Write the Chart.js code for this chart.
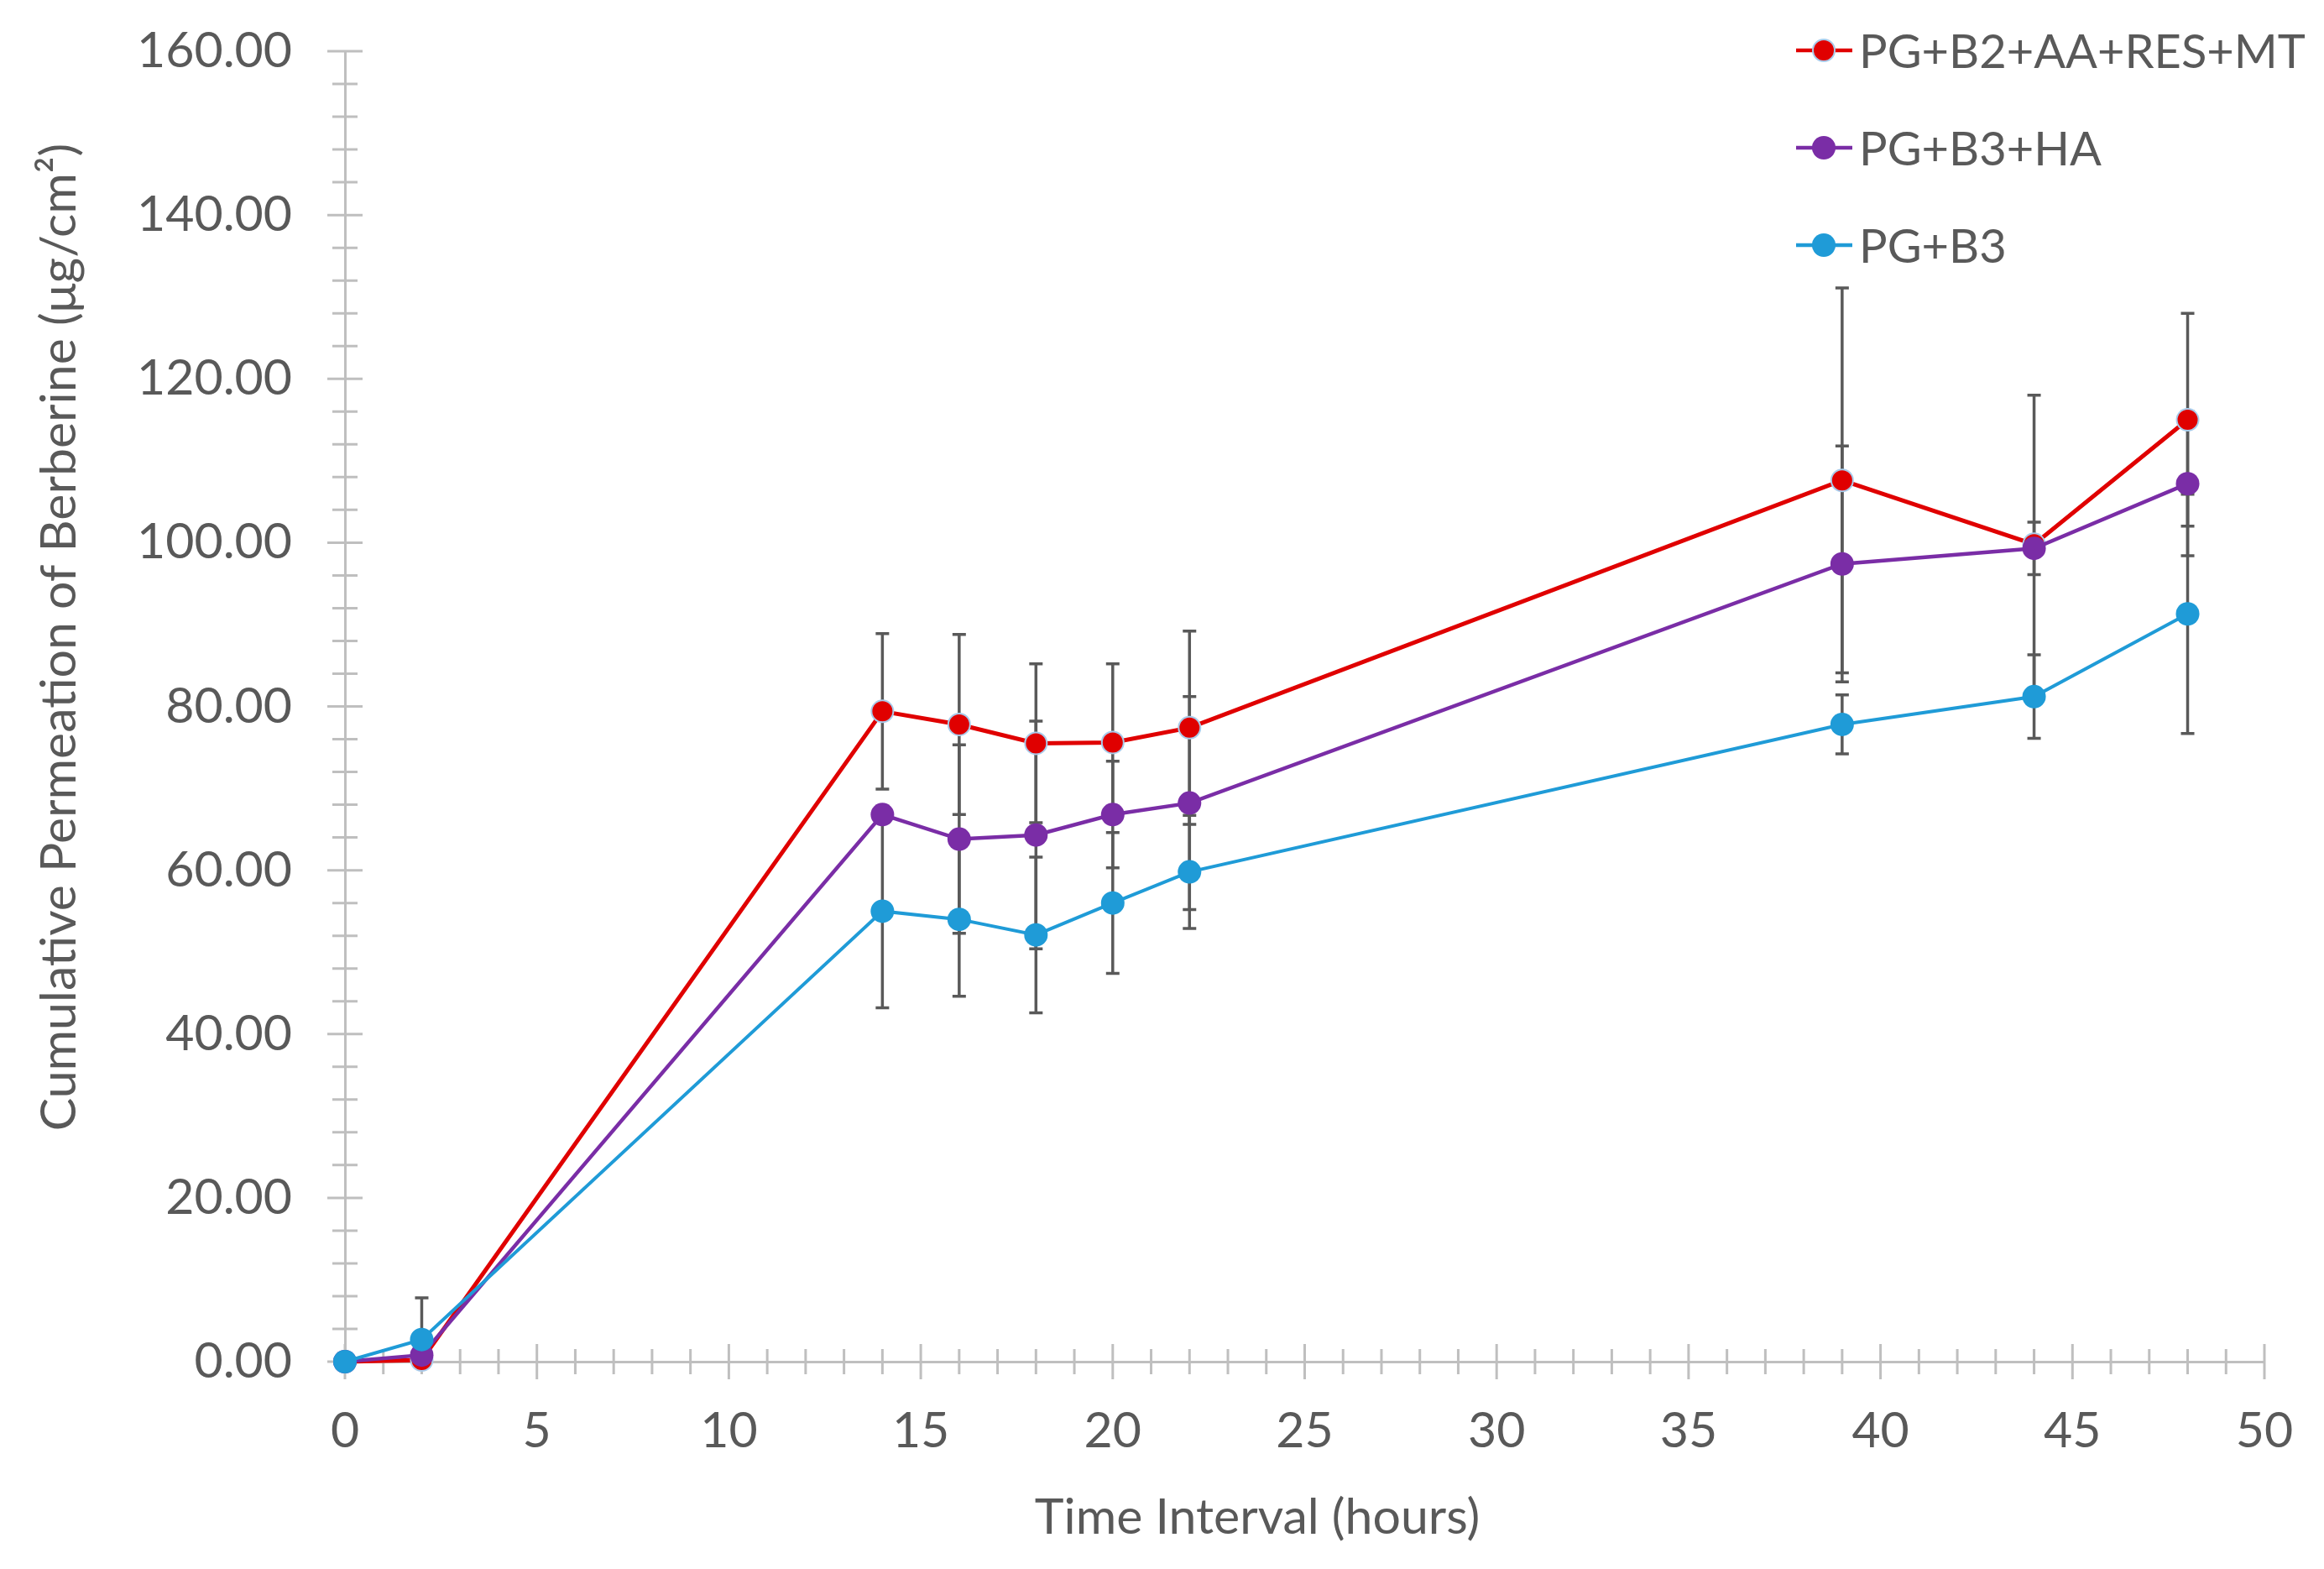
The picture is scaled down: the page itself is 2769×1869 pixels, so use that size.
<!DOCTYPE html>
<html>
<head>
<meta charset="utf-8">
<script src="https://cdn.jsdelivr.net/npm/chart.js@4.4.0/dist/chart.umd.min.js"></script>
<style>
html, body { margin: 0; padding: 0; background: #fff; }
canvas { display: block; }
</style>
</head>
<body>
<canvas id="graficoPermeacao" width="2769" height="1869"></canvas>
<script>
// ---- dados (horas x µg/cm²)
const tempos = [0, 2, 14, 16, 18, 20, 22, 39, 44, 48];
const nomesSeries = ['PG+B2+AA+RES+MT', 'PG+B3+HA', 'PG+B3'];

const valoresRES = [0, 0.2, 79.4, 77.8, 75.5, 75.6, 77.4, 107.6, 99.8, 115.0];
const valoresHA  = [0, 0.8, 66.8, 63.8, 64.3, 66.8, 68.2, 97.4, 99.3, 107.2];
const valoresB3  = [0, 2.7, 55.0, 54.0, 52.1, 56.0, 59.8, 77.8, 81.2, 91.3];

// desvios (barras de erro)
const errosRES = [0, 0, 9.5, 11.0, 9.7, 9.6, 11.8, 23.5, 18.2, 13.0];
const errosHA  = [0, 0, 1.0, 11.5, 13.9, 6.5, 13.0, 14.4, 3.2, 8.8];
const errosB3  = [0, 5.1, 11.8, 9.4, 9.5, 8.6, 6.9, 3.6, 5.1, 14.6];

const valores = [valoresRES, valoresHA, valoresB3];
const erros = [errosRES, errosHA, errosB3];

const coresSeries = ['#E00000', '#7A2DA6', '#1F9BD7'];
const largurasLinha = [5, 4.5, 4];

const fonte = 'Lato, "Open Sans", sans-serif';
const tamanhoFonte = 59;
const corTexto = '#595959';
const corEixo = '#BFBFBF';

// ---- marcas dos eixos (principais e secundárias, cruzando o eixo)
const marcasEixos = {
    id: 'marcasEixos',
    beforeDatasetsDraw(chart) {
        const { ctx, chartArea: a } = chart;
        const x = chart.scales.x, y = chart.scales.y;
        ctx.save();
        ctx.strokeStyle = corEixo;
        ctx.lineWidth = 3;
        ctx.beginPath();
        x.ticks.forEach(t => {
            const px = x.getPixelForValue(t.value);
            const m = t.value % 5 === 0 ? 21 : 15;
            ctx.moveTo(px, a.bottom - m);
            ctx.lineTo(px, a.bottom + m);
        });
        y.ticks.forEach(t => {
            const py = y.getPixelForValue(t.value);
            const m = t.value % 20 === 0 ? 21 : 15;
            ctx.moveTo(a.left - m, py);
            ctx.lineTo(a.left + m, py);
        });
        ctx.stroke();
        ctx.restore();
    }
};

// ---- barras de erro (desenhadas por baixo dos marcadores)
const barrasErro = {
    id: 'barrasErro',
    beforeDatasetsDraw(chart) {
        const { ctx, chartArea: a } = chart;
        const x = chart.scales.x, y = chart.scales.y;
        ctx.save();
        ctx.beginPath();
        ctx.rect(0, 0, chart.width, a.bottom);
        ctx.clip();
        ctx.strokeStyle = '#595959';
        ctx.lineWidth = 3.5;
        valores.forEach((serie, i) => {
            serie.forEach((v, j) => {
                const e = erros[i][j];
                if (!e) return;
                const px = x.getPixelForValue(tempos[j]);
                const topo = y.getPixelForValue(v + e);
                const base = y.getPixelForValue(v - e);
                ctx.beginPath();
                ctx.moveTo(px, topo); ctx.lineTo(px, base);
                ctx.moveTo(px - 8, topo); ctx.lineTo(px + 8, topo);
                ctx.moveTo(px - 8, base); ctx.lineTo(px + 8, base);
                ctx.stroke();
            });
        });
        ctx.restore();
    }
};

// ---- legenda e títulos dos eixos
const legendaTitulos = {
    id: 'legendaTitulos',
    afterDraw(chart) {
        const ctx = chart.ctx;
        ctx.save();
        ctx.textBaseline = 'alphabetic';

        // legenda
        ctx.font = `56px ${fonte}`;
        chart.data.datasets.forEach((ds, i) => {
            const yc = 60 + i * 116;
            ctx.strokeStyle = ds.borderColor;
            ctx.lineWidth = 4.5;
            ctx.beginPath();
            ctx.moveTo(2140, yc); ctx.lineTo(2207, yc);
            ctx.stroke();
            ctx.beginPath();
            ctx.arc(2173, yc, ds.pointRadius, 0, Math.PI * 2);
            ctx.fillStyle = ds.pointBackgroundColor;
            ctx.fill();
            if (ds.pointBorderWidth) {
                ctx.lineWidth = ds.pointBorderWidth;
                ctx.strokeStyle = ds.pointBorderColor;
                ctx.stroke();
            }
            ctx.fillStyle = corTexto;
            ctx.textAlign = 'left';
            ctx.fillText(ds.label, 2215, yc + 21);
        });

        ctx.font = `${tamanhoFonte}px ${fonte}`;
        ctx.fillStyle = corTexto;

        // título eixo x
        ctx.textAlign = 'center';
        ctx.fillText('Time Interval (hours)', 1498, 1827);

        // título eixo y
        ctx.translate(90, 759);
        ctx.rotate(-Math.PI / 2);
        ctx.fillText('Cumulative Permeation of Berberine (μg/cm²)', 0, 0);
        ctx.restore();
    }
};

const ctx = document.getElementById('graficoPermeacao').getContext('2d');

let graficoPermeacao = new Chart(ctx, {
    type: 'line',
    data: {
        datasets: nomesSeries.map((nome, i) => ({
            label: nome,
            data: tempos.map((t, j) => ({ x: t, y: valores[i][j] })),
            borderColor: coresSeries[i],
            backgroundColor: coresSeries[i],
            borderWidth: largurasLinha[i],
            pointBackgroundColor: coresSeries[i],
            pointBorderColor: i === 0 ? '#A9CBEA' : coresSeries[i],
            pointBorderWidth: i === 0 ? 2 : 0,
            pointRadius: i === 0 ? 13 : 14,
            tension: 0,
            fill: false,
            clip: false,
            order: 2 - i
        }))
    },
    options: {
        responsive: false,
        devicePixelRatio: 1,
        animation: false,
        layout: { padding: { left: 0, top: 61, right: 71, bottom: 0 } },
        plugins: {
            legend: { display: false },
            tooltip: { enabled: false }
        },
        scales: {
            x: {
                type: 'linear',
                min: 0,
                max: 50,
                grid: { display: false, drawTicks: false },
                border: { color: corEixo, width: 3 },
                ticks: {
                    stepSize: 1,
                    autoSkip: false,
                    maxRotation: 0,
                    padding: 48,
                    color: corTexto,
                    font: { family: fonte, size: tamanhoFonte },
                    callback: v => v % 5 === 0 ? String(v) : ''
                },
                afterFit: s => {
                    s.height = 1869 - 1622;
                    s.paddingLeft = 0;
                    s.paddingRight = 0;
                }
            },
            y: {
                type: 'linear',
                min: 0,
                max: 160,
                grid: { display: false, drawTicks: false },
                border: { color: corEixo, width: 3 },
                ticks: {
                    stepSize: 4,
                    autoSkip: false,
                    padding: 63,
                    color: corTexto,
                    font: { family: fonte, size: tamanhoFonte },
                    callback: v => v % 20 === 0 ? v.toFixed(2) : ''
                },
                afterFit: s => {
                    s.width = 411;
                    s.paddingTop = 0;
                    s.paddingBottom = 0;
                }
            }
        }
    },
    plugins: [marcasEixos, barrasErro, legendaTitulos]
});
</script>
</body>
</html>
